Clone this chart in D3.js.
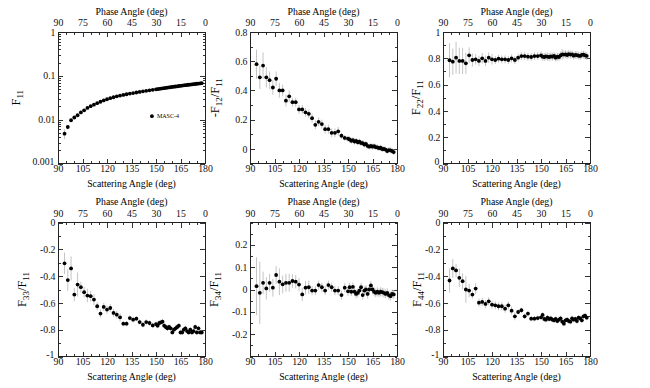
<!DOCTYPE html>
<html lang="en">
<head>
<meta charset="UTF-8">
<title>MASC-4 scattering matrix</title>
<script src="https://d3js.org/d3.v7.min.js" charset="utf-8"></script>
<style>
  body { margin: 0; background: #fff; }
  svg { font-family: "Liberation Serif", "Times New Roman", serif; }
  .tk line { stroke: #333; stroke-width: 1px; shape-rendering: crispEdges; }
  .tk path { display: none; }
  .tk text { font-size: 9.8px; fill: #111; font-family: "Liberation Serif", serif; }
  .frame { fill: none; stroke: #222; stroke-width: 1px; shape-rendering: crispEdges; }
  .ebar { stroke: #c4c4c4; stroke-width: 1px; }
</style>
</head>
<body>
<script>
// scattering angles (deg)
var angle = [94,96,98,100,102,104,106,108,110,112,114,116,118,120,122,124,126,128,130,132,134,136,138,140,142,144,146,148,150,
  151,152,153,154,155,156,157,158,159,160,161,162,163,164,165,166,167,168,169,170,171,172,173,174,175,176,177,178];

var f11 = [0.0048,0.0068,0.0097,0.0112,0.0126,0.0146,0.0163,0.0185,0.0203,0.0220,0.0238,0.0256,0.0275,0.0292,0.0310,0.0325,0.0340,0.0354,0.0366,0.0380,0.0393,0.0405,0.0417,0.0430,0.0443,0.0456,0.0468,0.0480,0.0492,
  0.0500,0.0506,0.0513,0.0518,0.0526,0.0531,0.0539,0.0545,0.0550,0.0558,0.0565,0.0571,0.0577,0.0586,0.0591,0.0598,0.0606,0.0611,0.0618,0.0626,0.0631,0.0638,0.0646,0.0651,0.0659,0.0665,0.0672,0.0680];
var f11Err = [0.0012,0.0008,0.0006,0.0005,0.0005,0.0005,0.0005,0.0005,0.0005,0.0005,0.0005,0.0005,0.0005,0.0005,0.0005,0.0005,0.0005,0.0005,0.0005,0.0005,0.0005,0.0005,0.0005,0.0005,0.0005,0.0005,0.0005,0.0005,0.0005,
  0.0005,0.0005,0.0005,0.0005,0.0005,0.0005,0.0005,0.0005,0.0005,0.0005,0.0005,0.0005,0.0005,0.0005,0.0005,0.0005,0.0005,0.0005,0.0005,0.0005,0.0005,0.0005,0.0005,0.0005,0.0005,0.0005,0.0005,0.0005];

var f12 = [0.58,0.49,0.57,0.49,0.47,0.42,0.48,0.40,0.40,0.33,0.36,0.32,0.32,0.27,0.27,0.25,0.24,0.21,0.165,0.185,0.17,0.135,0.135,0.11,0.11,0.12,0.09,0.075,0.07,
  0.065,0.055,0.06,0.05,0.055,0.045,0.05,0.04,0.04,0.03,0.035,0.02,0.015,0.02,0.015,0.018,0.012,0.01,0.005,0.008,-0.002,0.0,-0.005,-0.015,-0.008,-0.01,-0.015,-0.022];
var f12Err = [0.1,0.08,0.09,0.07,0.06,0.05,0.05,0.05,0.04,0.04,0.04,0.03,0.03,0.03,0.03,0.03,0.03,0.03,0.03,0.03,0.03,0.03,0.03,0.03,0.03,0.03,0.02,0.02,0.02,
  0.02,0.02,0.02,0.02,0.02,0.02,0.02,0.02,0.02,0.02,0.02,0.02,0.02,0.02,0.02,0.02,0.02,0.02,0.02,0.02,0.02,0.02,0.02,0.02,0.02,0.02,0.02,0.02];

var f22 = [0.785,0.774,0.805,0.78,0.78,0.762,0.823,0.787,0.792,0.78,0.80,0.78,0.805,0.792,0.787,0.797,0.792,0.792,0.787,0.80,0.787,0.805,0.817,0.817,0.812,0.81,0.817,0.817,0.822,
  0.812,0.81,0.815,0.812,0.81,0.815,0.812,0.818,0.805,0.812,0.81,0.822,0.83,0.828,0.83,0.825,0.832,0.828,0.83,0.82,0.826,0.824,0.82,0.818,0.826,0.828,0.822,0.818];
var f22Err = [0.13,0.1,0.12,0.1,0.1,0.08,0.06,0.05,0.04,0.04,0.04,0.04,0.04,0.04,0.03,0.03,0.03,0.03,0.03,0.03,0.03,0.03,0.03,0.03,0.03,0.03,0.03,0.03,0.03,
  0.03,0.03,0.03,0.03,0.03,0.03,0.03,0.03,0.03,0.03,0.03,0.03,0.04,0.03,0.03,0.03,0.03,0.03,0.03,0.03,0.03,0.03,0.03,0.03,0.03,0.03,0.03,0.03];

var f33 = [-0.305,-0.43,-0.343,-0.538,-0.463,-0.483,-0.52,-0.545,-0.55,-0.575,-0.625,-0.68,-0.63,-0.65,-0.638,-0.675,-0.688,-0.708,-0.755,-0.755,-0.713,-0.725,-0.718,-0.743,-0.763,-0.743,-0.75,-0.768,-0.758,
  -0.77,-0.75,-0.745,-0.74,-0.77,-0.78,-0.79,-0.78,-0.79,-0.82,-0.80,-0.79,-0.78,-0.77,-0.82,-0.82,-0.80,-0.79,-0.81,-0.82,-0.80,-0.82,-0.81,-0.78,-0.82,-0.79,-0.82,-0.82];
var f33Err = [0.08,0.08,0.09,0.05,0.09,0.04,0.04,0.05,0.04,0.04,0.03,0.03,0.03,0.03,0.03,0.03,0.03,0.03,0.02,0.02,0.02,0.02,0.02,0.02,0.02,0.02,0.02,0.02,0.02,
  0.02,0.02,0.02,0.02,0.02,0.02,0.02,0.02,0.02,0.02,0.02,0.02,0.02,0.02,0.02,0.02,0.02,0.02,0.02,0.02,0.02,0.02,0.02,0.02,0.02,0.02,0.02,0.02];

var f34 = [0.015,-0.015,0.03,0.005,0.03,0.008,0.065,0.035,0.023,0.03,0.03,0.038,0.035,0.022,-0.022,0.008,0.01,-0.005,-0.005,0.02,0.01,-0.005,0.02,0.01,-0.005,-0.005,-0.025,0.008,-0.008,
  0.01,-0.01,0.012,-0.01,-0.02,-0.015,-0.005,0.01,-0.025,-0.005,0.0,-0.02,0.0,0.018,0.0,-0.01,-0.015,-0.01,-0.015,-0.01,-0.012,-0.015,-0.02,-0.015,-0.025,-0.03,-0.02,-0.022];
var f34Err = [0.13,0.14,0.05,0.05,0.04,0.04,0.04,0.06,0.04,0.04,0.04,0.03,0.03,0.03,0.03,0.03,0.03,0.02,0.02,0.02,0.02,0.02,0.02,0.02,0.02,0.02,0.02,0.02,0.02,
  0.02,0.02,0.02,0.02,0.02,0.02,0.02,0.02,0.02,0.02,0.02,0.02,0.02,0.02,0.02,0.02,0.02,0.02,0.02,0.02,0.02,0.02,0.02,0.02,0.02,0.02,0.02,0.02];

var f44 = [-0.433,-0.343,-0.358,-0.413,-0.438,-0.5,-0.508,-0.538,-0.493,-0.598,-0.593,-0.608,-0.588,-0.613,-0.618,-0.625,-0.625,-0.643,-0.618,-0.658,-0.7,-0.668,-0.655,-0.7,-0.68,-0.718,-0.718,-0.713,-0.708,
  -0.69,-0.72,-0.725,-0.71,-0.72,-0.715,-0.725,-0.73,-0.72,-0.735,-0.725,-0.715,-0.74,-0.755,-0.73,-0.725,-0.735,-0.74,-0.715,-0.725,-0.72,-0.735,-0.71,-0.715,-0.73,-0.70,-0.695,-0.71];
var f44Err = [0.09,0.07,0.05,0.07,0.06,0.1,0.05,0.03,0.04,0.03,0.03,0.03,0.03,0.03,0.03,0.03,0.03,0.03,0.03,0.03,0.03,0.02,0.02,0.02,0.02,0.02,0.02,0.02,0.02,
  0.02,0.02,0.02,0.02,0.02,0.02,0.02,0.02,0.02,0.02,0.02,0.02,0.02,0.02,0.02,0.02,0.02,0.02,0.02,0.02,0.02,0.02,0.02,0.02,0.02,0.02,0.02,0.02];

// tick labels
var scatTicks = [90,105,120,135,150,165,180];
var phaseTicks = [90,75,60,45,30,15,0];
var logTicks = [0.001,0.01,0.1,1];
var logLabels = ["0.001","0.01","0.1","1"];
var legendName = "MASC-4";

//-------------------

var W = 650, H = 388;
var pw = 147;
var colX = [58, 250, 443];
var rowY = [{y:32, h:131.5}, {y:222.5, h:134}];

var svg = d3.select("body").append("svg")
  .attr("width", W).attr("height", H);

function fmt(d){ return String(+d.toFixed(3)); }

var panels = [
  {c:0, r:0, v:f11, e:f11Err, log:true, dom:[0.001,1], lab:[["F",0],["11",1]], lx:20},
  {c:1, r:0, v:f12, e:f12Err, dom:[-0.1,0.8], major:d3.range(0,0.81,0.2), minor:d3.range(-0.1,0.81,0.1), lab:[["-F",0],["12",1],["/F",0],["11",1]], lx:219},
  {c:2, r:0, v:f22, e:f22Err, dom:[0,1], major:d3.range(0,1.01,0.2), minor:d3.range(0,1.01,0.1), lab:[["F",0],["22",1],["/F",0],["11",1]], lx:420},
  {c:0, r:1, v:f33, e:f33Err, dom:[-1,0], major:d3.range(-1,0.01,0.2), minor:d3.range(-1,0.01,0.1), lab:[["F",0],["33",1],["/F",0],["11",1]], lx:26},
  {c:1, r:1, v:f34, e:f34Err, dom:[-0.3,0.3], major:d3.range(-0.2,0.21,0.1), minor:d3.range(-0.3,0.31,0.05), lab:[["F",0],["34",1],["/F",0],["11",1]], lx:218},
  {c:2, r:1, v:f44, e:f44Err, dom:[-1,0], major:d3.range(-1,0.01,0.2), minor:d3.range(-1,0.01,0.1), lab:[["F",0],["44",1],["/F",0],["11",1]], lx:421}
];

panels.forEach(function(p){
  var x0 = colX[p.c], y0 = rowY[p.r].y, ph = rowY[p.r].h;
  var g = svg.append("g").attr("transform","translate(" + x0 + "," + y0 + ")");

  var xScale = d3.scaleLinear().domain([90,180]).range([0,pw]);
  var phScale = d3.scaleLinear().domain([90,0]).range([0,pw]);
  var yScale = p.log ? d3.scaleLog().domain(p.dom).range([ph,0])
                     : d3.scaleLinear().domain(p.dom).range([ph,0]);

  // minor ticks
  var xMinor = d3.range(90,181,5);
  var yMinor;
  if(p.log){
    yMinor = [];
    logTicks.slice(0,3).forEach(function(t){ for(var k=2;k<10;k++) yMinor.push(t*k); });
  } else {
    yMinor = p.minor;
  }
  var minorSets = [
    [d3.axisBottom(xScale).tickValues(xMinor), "translate(0," + ph + ")"],
    [d3.axisTop(xScale).tickValues(xMinor), "translate(0,0)"],
    [d3.axisLeft(yScale).tickValues(yMinor), "translate(0,0)"],
    [d3.axisRight(yScale).tickValues(yMinor), "translate(" + pw + ",0)"]
  ];
  minorSets.forEach(function(m){
    g.append("g").attr("class","tk").attr("transform", m[1])
      .call(m[0].tickSize(-2.5).tickFormat(""));
  });

  // major ticks + labels
  g.append("g").attr("class","tk").attr("transform","translate(0," + ph + ")")
    .call(d3.axisBottom(xScale).tickValues(scatTicks).tickSize(-5).tickPadding(1.5).tickFormat(fmt));
  g.append("g").attr("class","tk")
    .call(d3.axisTop(phScale).tickValues(phaseTicks).tickSize(-5).tickPadding(6).tickFormat(fmt));

  var yAxis = d3.axisLeft(yScale).tickSize(-5).tickPadding(2.5);
  var yAxisR = d3.axisRight(yScale).tickSize(-5).tickFormat("");
  if(p.log){
    yAxis.tickValues(logTicks).tickFormat(function(d,i){ return logLabels[i]; });
    yAxisR.tickValues(logTicks);
  } else {
    yAxis.tickValues(p.major).tickFormat(fmt);
    yAxisR.tickValues(p.major);
  }
  var ya = g.append("g").attr("class","tk").call(yAxis);
  // lowest label sits a little higher, clear of the x labels
  ya.selectAll(".tick text").filter(function(d){ return yScale(d) > ph - 1; })
    .attr("dy","0.05em").attr("x", -3.5);
  g.append("g").attr("class","tk").attr("transform","translate(" + pw + ",0)").call(yAxisR);

  if(p.zero){
    g.append("line")
      .attr("x1",0).attr("x2",pw)
      .attr("y1",yScale(0)).attr("y2",yScale(0))
      .style("stroke","#9a9a9a").style("stroke-width",0.7);
  }

  // error bars
  g.selectAll("line.ebar")
    .data(angle)
    .enter().append("line")
    .attr("class","ebar")
    .attr("x1", function(d){ return xScale(d); })
    .attr("x2", function(d){ return xScale(d); })
    .attr("y1", function(d,i){ return yScale(p.log ? Math.max(p.v[i]-p.e[i], 0.0011) : p.v[i]-p.e[i]); })
    .attr("y2", function(d,i){ return yScale(p.v[i]+p.e[i]); });

  // points
  g.selectAll("circle")
    .data(angle)
    .enter().append("circle")
    .attr("cx", function(d){ return xScale(d); })
    .attr("cy", function(d,i){ return yScale(p.v[i]); })
    .attr("r", 1.9)
    .style("fill","black");

  g.append("rect").attr("class","frame")
    .attr("x",0).attr("y",0).attr("width",pw).attr("height",ph);

  // axis titles
  g.append("text")
    .attr("x", pw/2).attr("y", -17.5)
    .attr("text-anchor","middle")
    .style("font-size","9.8px")
    .text("Phase Angle (deg)");
  g.append("text")
    .attr("x", pw/2).attr("y", ph + 23.5)
    .attr("text-anchor","middle")
    .style("font-size","9.8px")
    .text("Scattering Angle (deg)");

  var yl = svg.append("text")
    .attr("transform","translate(" + p.lx + "," + (y0 + ph/2) + ") rotate(-90)")
    .attr("text-anchor","middle")
    .style("font-size","12.5px");
  p.lab.forEach(function(s){
    var t = yl.append("tspan").text(s[0]);
    if(s[1]) t.style("font-size","9px").attr("dy", 3);
    else t.attr("dy", yl.selectAll("tspan").size() > 1 ? -3 : 0);
  });

  if(p.log){
    g.append("circle").attr("cx", xScale(147.5)).attr("cy", yScale(0.012)).attr("r",1.9).style("fill","black");
    g.append("text").attr("x", xScale(147.5) + 5).attr("y", yScale(0.012) + 2)
      .style("font-size","6px").text(legendName);
  }
});
</script>
</body>
</html>
